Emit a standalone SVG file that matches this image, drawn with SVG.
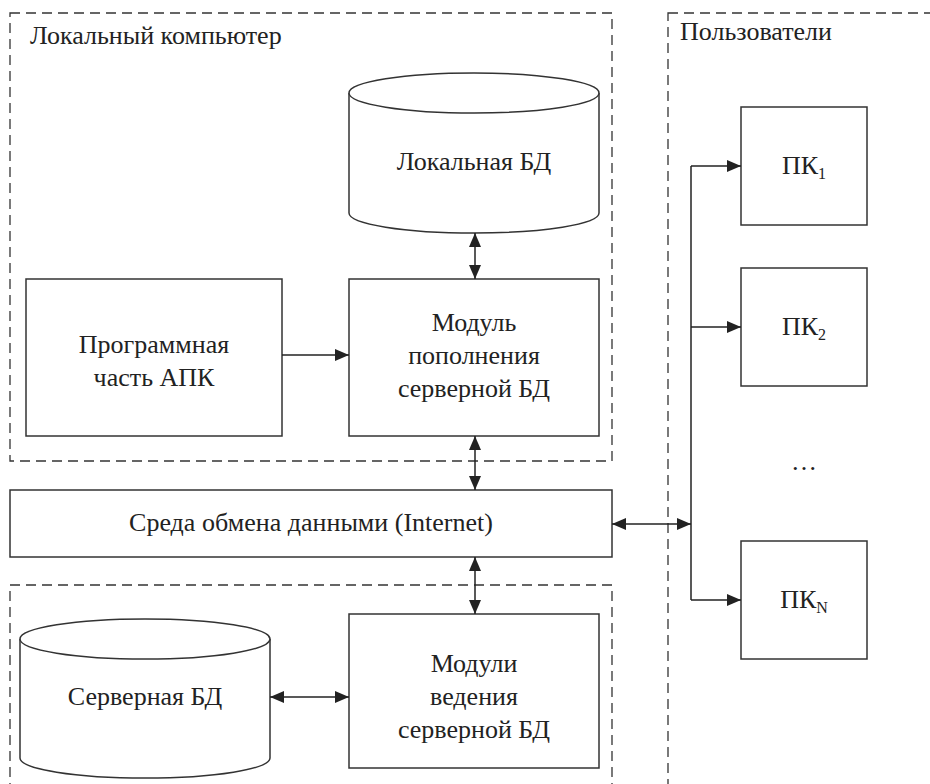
<svg xmlns="http://www.w3.org/2000/svg" width="930" height="784" viewBox="0 0 930 784" font-family="'Liberation Serif', 'Times New Roman', 'DejaVu Serif', serif">
<style>
text{font-family:"Liberation Serif","Times New Roman","DejaVu Serif",serif;font-size:26px;fill:#222;text-anchor:middle}
.lbl{text-anchor:start}
.dash{fill:none;stroke:#333;stroke-width:1.3;stroke-dasharray:10 6}
.box{fill:#fff;stroke:#333;stroke-width:1.5}
.ln{fill:none;stroke:#222;stroke-width:1.5}
.sub{font-size:16px}
</style>
<defs>
<marker id="ah" viewBox="0 0 14 12" refX="14" refY="6" markerWidth="14" markerHeight="12" markerUnits="userSpaceOnUse" orient="auto-start-reverse">
<path d="M0,0 L14,6 L0,12 Z" fill="#222"/>
</marker>
</defs>
<g id="containers">
<rect class="dash" x="10" y="13" width="602" height="448"/>
<rect class="dash" x="10" y="585" width="602" height="230"/>
<rect class="dash" x="668" y="13" width="300" height="800"/>
<text class="lbl" x="30" y="44">Локальный компьютер</text>
<text class="lbl" x="680" y="40">Пользователи</text>
</g>
<g id="local-db">
<path class="box" d="M349,93 L349,213 A125,20 0 0 0 599,213 L599,93"/>
<ellipse class="box" cx="474" cy="93" rx="125" ry="20"/>
<text x="474" y="170">Локальная БД</text>
</g>
<g id="program">
<rect class="box" x="26" y="279" width="256" height="157"/>
<text x="154" y="353">Программная</text>
<text x="154" y="386">часть АПК</text>
</g>
<g id="module-add">
<rect class="box" x="349" y="279" width="250" height="157"/>
<text x="474" y="331">Модуль</text>
<text x="474" y="364">пополнения</text>
<text x="474" y="397">серверной БД</text>
</g>
<g id="internet">
<rect class="box" x="10" y="490" width="602" height="67"/>
<text x="311" y="531">Среда обмена данными (Internet)</text>
</g>
<g id="server-db">
<path class="box" d="M20,639 L20,758 A125,20 0 0 0 270,758 L270,639"/>
<ellipse class="box" cx="145" cy="639" rx="125" ry="20"/>
<text x="145" y="705">Серверная БД</text>
</g>
<g id="module-server">
<rect class="box" x="349" y="614" width="250" height="154"/>
<text x="474" y="672">Модули</text>
<text x="474" y="705">ведения</text>
<text x="474" y="738">серверной БД</text>
</g>
<g id="pc1">
<rect class="box" x="741" y="107" width="126" height="118"/>
<text x="804" y="174">ПК<tspan class="sub" dy="5">1</tspan></text>
</g>
<g id="pc2">
<rect class="box" x="741" y="268" width="126" height="118"/>
<text x="804" y="335">ПК<tspan class="sub" dy="5">2</tspan></text>
</g>
<g id="dots">
<text x="804" y="470">…</text>
</g>
<g id="pcn">
<rect class="box" x="741" y="541" width="126" height="118"/>
<text x="804" y="608">ПК<tspan class="sub" dy="5">N</tspan></text>
</g>
<g id="connectors">
<line class="ln" x1="475" y1="233" x2="475" y2="279" marker-start="url(#ah)" marker-end="url(#ah)"/>
<line class="ln" x1="282" y1="355" x2="349" y2="355" marker-end="url(#ah)"/>
<line class="ln" x1="475" y1="436" x2="475" y2="490" marker-start="url(#ah)" marker-end="url(#ah)"/>
<line class="ln" x1="475" y1="557" x2="475" y2="614" marker-start="url(#ah)" marker-end="url(#ah)"/>
<line class="ln" x1="270" y1="697" x2="349" y2="697" marker-start="url(#ah)" marker-end="url(#ah)"/>
<line class="ln" x1="612" y1="524" x2="691" y2="524" marker-start="url(#ah)" marker-end="url(#ah)"/>
<line class="ln" x1="691" y1="166" x2="691" y2="600"/>
<line class="ln" x1="691" y1="166" x2="741" y2="166" marker-end="url(#ah)"/>
<line class="ln" x1="691" y1="327" x2="741" y2="327" marker-end="url(#ah)"/>
<line class="ln" x1="691" y1="600" x2="741" y2="600" marker-end="url(#ah)"/>
</g>
</svg>
